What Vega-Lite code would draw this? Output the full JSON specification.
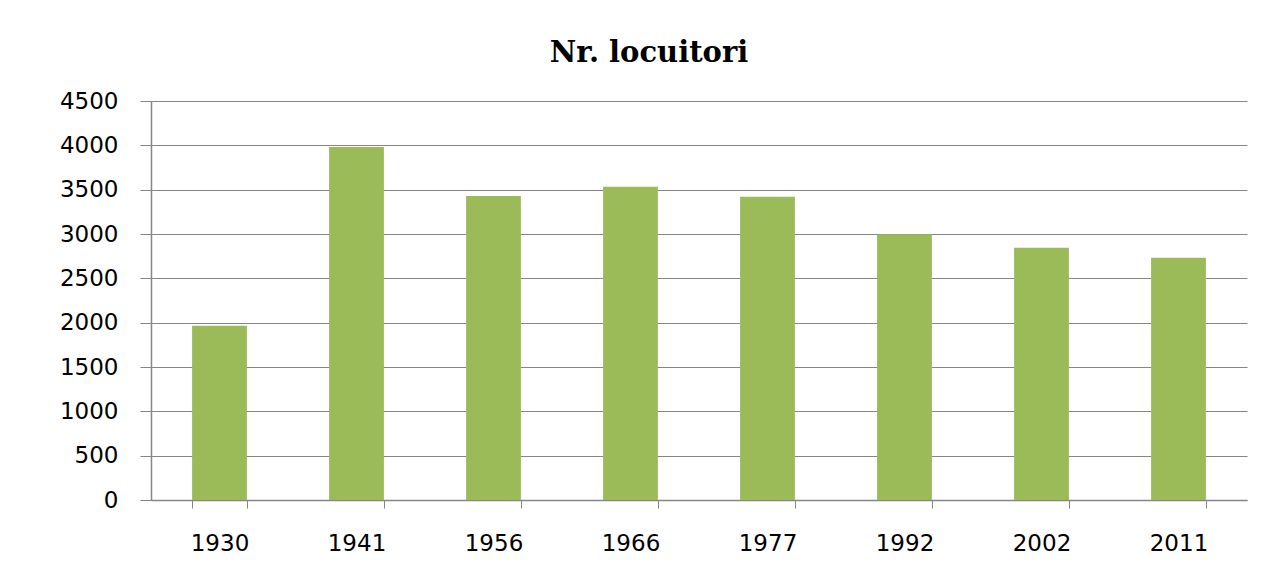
{
  "$schema": "https://vega.github.io/schema/vega-lite/v6.json",
  "width": 1096,
  "height": 399,
  "autosize": {"type": "none"},
  "padding": {"left": 151, "top": 101, "right": 30, "bottom": 82},
  "background": "white",
  "title": {
    "text": "Nr. locuitori",
    "font": "DejaVu Serif",
    "fontSize": 29,
    "fontWeight": "bold",
    "color": "#000000",
    "anchor": "middle",
    "dx": -50,
    "offset": 22
  },
  "data": {
    "values": [
      {"an": "1930", "locuitori": 1964},
      {"an": "1941", "locuitori": 3980},
      {"an": "1956", "locuitori": 3429},
      {"an": "1966", "locuitori": 3534},
      {"an": "1977", "locuitori": 3421},
      {"an": "1992", "locuitori": 2996},
      {"an": "2002", "locuitori": 2845},
      {"an": "2011", "locuitori": 2732}
    ]
  },
  "mark": {"type": "bar", "color": "#9BBB59"},
  "encoding": {
    "x": {
      "field": "an",
      "type": "ordinal",
      "sort": null,
      "scale": {"paddingInner": 0.6, "paddingOuter": 0.3},
      "axis": {
        "title": null,
        "labelAngle": 0,
        "labelFont": "DejaVu Sans",
        "labelFontSize": 23,
        "labelColor": "#000000",
        "labelPadding": 24,
        "tickBand": "extent",
        "tickSize": 8,
        "tickColor": "#868686",
        "domainColor": "#868686",
        "domainWidth": 1.5,
        "grid": false
      }
    },
    "y": {
      "field": "locuitori",
      "type": "quantitative",
      "scale": {"domain": [0, 4500], "nice": false},
      "axis": {
        "title": null,
        "format": "d",
        "values": [0, 500, 1000, 1500, 2000, 2500, 3000, 3500, 4000, 4500],
        "labelFont": "DejaVu Sans",
        "labelFontSize": 23,
        "labelColor": "#000000",
        "labelPadding": 22,
        "tickSize": 11,
        "tickColor": "#868686",
        "domainColor": "#868686",
        "domainWidth": 1.5,
        "grid": true,
        "gridColor": "#868686",
        "gridWidth": 1.2
      }
    }
  },
  "config": {"view": {"stroke": null}}
}
